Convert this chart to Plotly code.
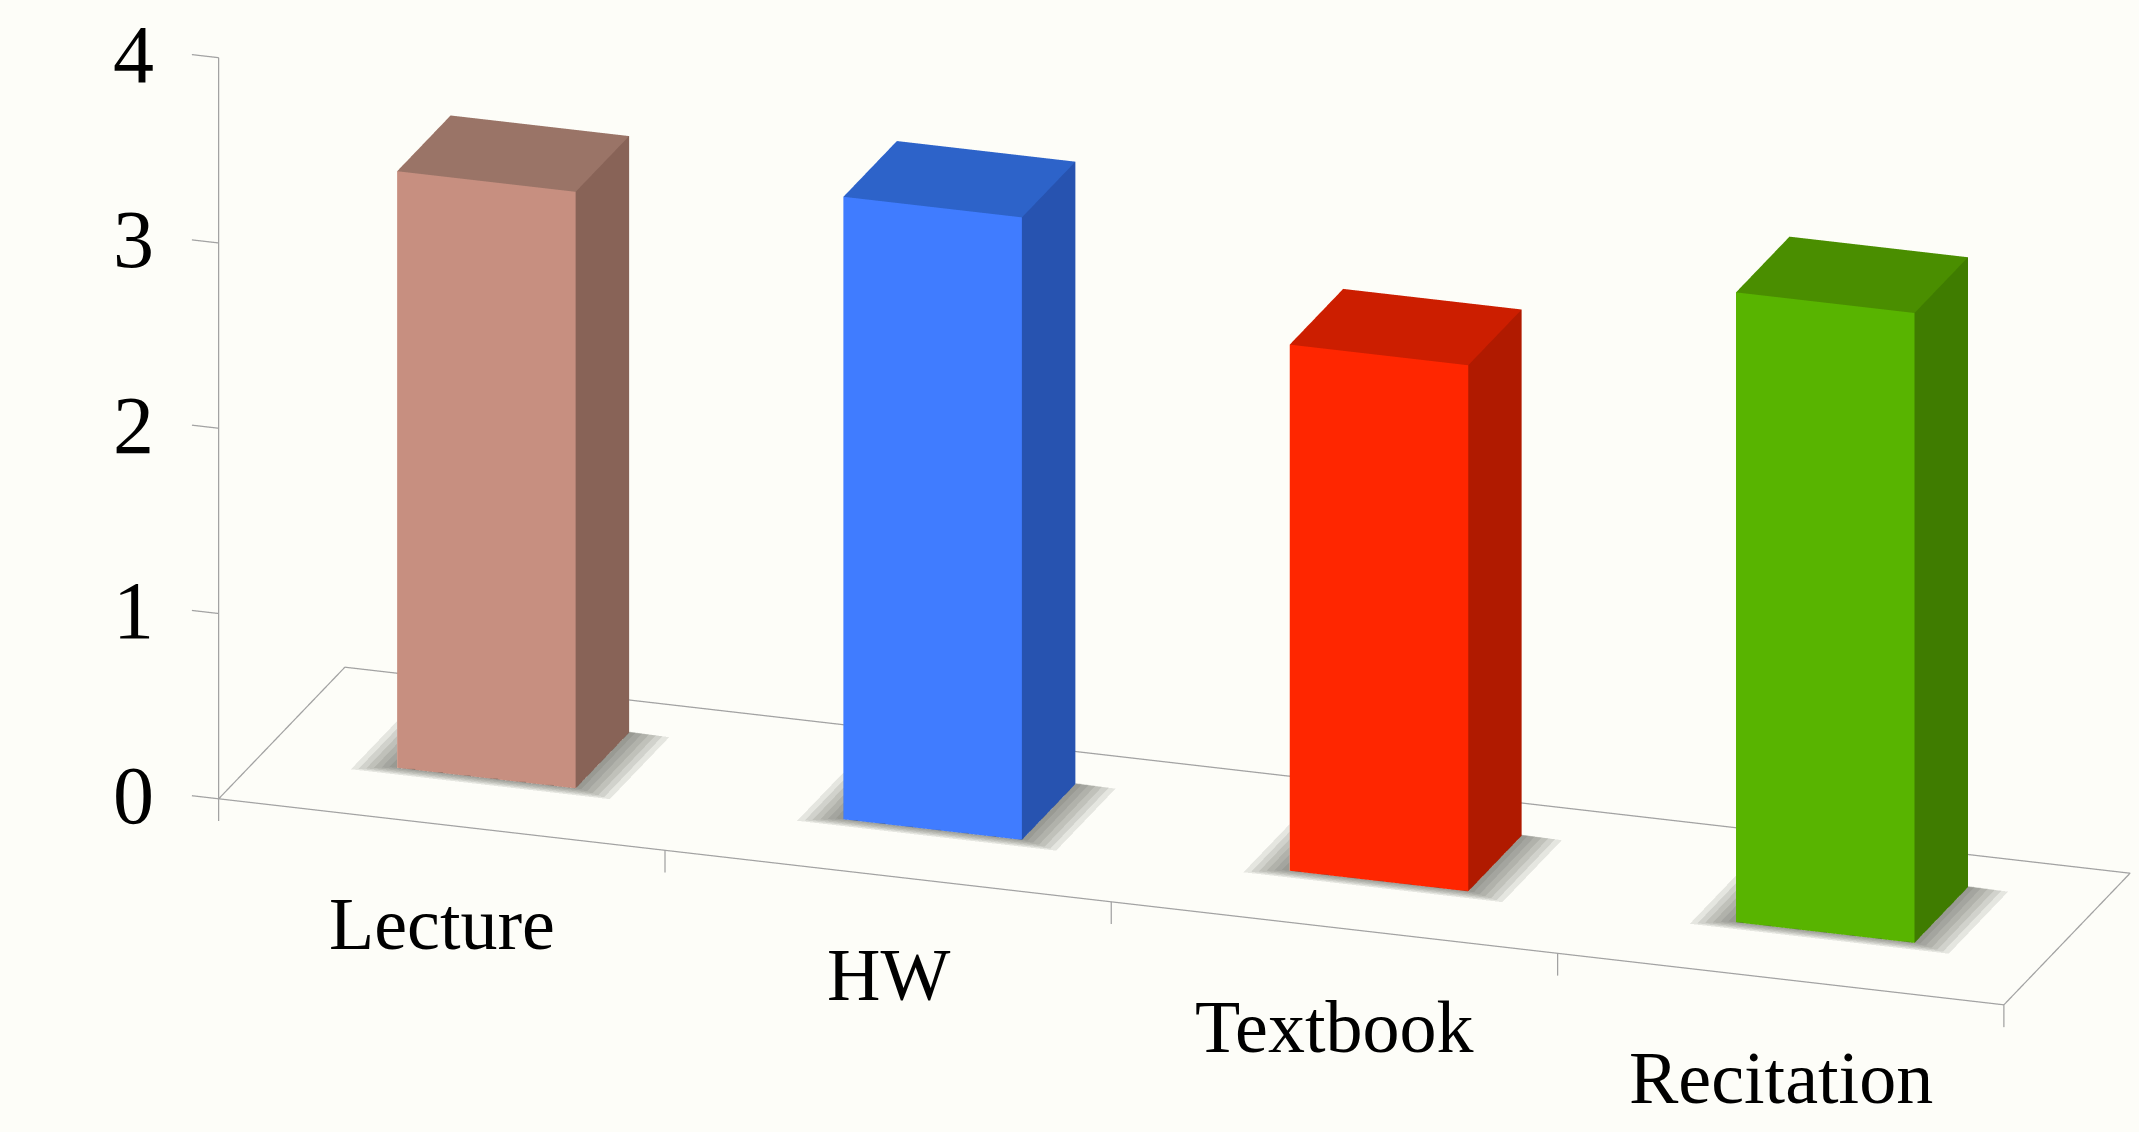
import math
import plotly.graph_objects as go

# ---- data ----
categories = ["Lecture", "HW", "Textbook", "Recitation"]
values = [3.22, 3.36, 2.84, 3.40]
y_ticks = [0, 1, 2, 3, 4]

front_colors = ["#C78F80", "#407CFF", "#FF2600", "#58B400"]
side_colors = ["#886357", "#2753B0", "#B01A00", "#3F7C00"]
top_colors = ["#9A7467", "#2D63C9", "#CC1E00", "#4A8E00"]

# ---- geometry / view settings ----
BAR_W = 0.40      # bar width as fraction of a category
DEPTH = 0.85      # floor depth (category units)
BAR_Y0 = 0.30     # front of bars (category units behind the front edge)
BAR_D = 0.36      # bar depth (category units)
K = 0.42          # world height of one value unit (category units)
XR = [-0.5, 4.1]
YR = [-0.05, DEPTH + 0.05]
ZR = [-1.0, 4.1]
S = 0.831         # normalized scene units per category (sets the zoom)
YAW = math.radians(-18.4)
PITCH = math.radians(20.3)
DIST = 6.0
LOOK = (1.765, 0.425, 1.392)   # data point shown at the centre of the view
GRID = "#A2A2A2"
BG = "#FDFDF8"
FONT = "Liberation Serif"
FLAT = dict(ambient=1.0, diffuse=0.0, specular=0.0, roughness=1.0, fresnel=0.0)

fig = go.Figure()

for i, (cat, v) in enumerate(zip(categories, values)):
    x0 = i + (1 - BAR_W) / 2
    x1 = x0 + BAR_W
    y0 = BAR_Y0
    y1 = y0 + BAR_D
    # soft floor shadow (stacked translucent layers)
    for n, e in enumerate([0.09, 0.075, 0.06, 0.045, 0.03, 0.015]):
        fig.add_trace(go.Mesh3d(
            x=[x0 - e, x1 + e, x1 + e, x0 - e],
            y=[y0 - 0.45 * e, y0 - 0.45 * e, y1, y1], z=[0.001 * (n + 1)] * 4,
            i=[0, 0], j=[1, 2], k=[2, 3], color="#55574F", opacity=0.14,
            lighting=FLAT, hoverinfo="skip", showscale=False))
    xs = [x0, x1, x1, x0, x0, x1, x1, x0]
    ys = [y0, y0, y1, y1, y0, y0, y1, y1]
    zs = [0, 0, 0, 0, v, v, v, v]
    I = [0, 0, 1, 1, 4, 4, 3, 3, 0, 0, 0, 0]
    J = [1, 5, 2, 6, 5, 6, 2, 6, 3, 7, 1, 2]
    Kf = [5, 4, 6, 5, 6, 7, 6, 7, 7, 4, 2, 3]
    fc = [front_colors[i]] * 2 + [side_colors[i]] * 2 + [top_colors[i]] * 2 + \
         [side_colors[i]] * 2 + [front_colors[i]] * 2 + [side_colors[i]] * 2
    fig.add_trace(go.Mesh3d(
        x=xs, y=ys, z=zs, i=I, j=J, k=Kf, facecolor=fc, flatshading=True,
        lighting=FLAT, hoverinfo="skip", name=cat, showscale=False))

line = dict(color=GRID, width=2.5)
# floor outline
fig.add_trace(go.Scatter3d(
    x=[0, 4, 4, 0, 0], y=[0, 0, DEPTH, DEPTH, 0], z=[0, 0, 0, 0, 0],
    mode="lines", line=line, hoverinfo="skip", showlegend=False))
# front-edge tick marks
for t in range(0, len(categories) + 1):
    fig.add_trace(go.Scatter3d(
        x=[t, t], y=[0, 0], z=[0, -0.12], mode="lines",
        line=line, hoverinfo="skip", showlegend=False))
# value axis
fig.add_trace(go.Scatter3d(
    x=[0, 0], y=[0, 0], z=[0, max(y_ticks)], mode="lines",
    line=line, hoverinfo="skip", showlegend=False))
for t in y_ticks:
    fig.add_trace(go.Scatter3d(
        x=[0, -0.06], y=[0, 0], z=[t, t], mode="lines",
        line=line, hoverinfo="skip", showlegend=False))

annotations = []
for t in y_ticks:
    annotations.append(dict(x=-0.06, y=0, z=t, text=str(t), showarrow=False,
                            xanchor="right", yanchor="middle", xshift=-36,
                            font=dict(family=FONT, size=82, color="black")))
for i, cat in enumerate(categories):
    annotations.append(dict(x=i + 0.5, y=0, z=0, text=cat, showarrow=False,
                            xanchor="center", yanchor="top", yshift=-56,
                            font=dict(family=FONT, size=74, color="black")))

# camera from yaw / pitch
dx = -math.sin(YAW) * math.cos(PITCH)
dy = -math.cos(YAW) * math.cos(PITCH)
dz = math.sin(PITCH)
cx = (LOOK[0] - (XR[0] + XR[1]) / 2) * S
cy = (LOOK[1] - (YR[0] + YR[1]) / 2) * S
cz = (LOOK[2] - (ZR[0] + ZR[1]) / 2) * K * S
center = dict(x=cx, y=cy, z=cz)
eye = dict(x=cx + DIST * dx, y=cy + DIST * dy, z=cz + DIST * dz)

hidden = dict(visible=False, showbackground=False, showgrid=False, zeroline=False,
              showspikes=False)
fig.update_layout(
    width=2139, height=1132,
    paper_bgcolor=BG, plot_bgcolor=BG,
    margin=dict(l=0, r=0, t=0, b=0),
    showlegend=False,
    scene=dict(
        domain=dict(x=[0, 1], y=[0, 1]),
        xaxis=dict(range=XR, **hidden),
        yaxis=dict(range=YR, **hidden),
        zaxis=dict(range=ZR, **hidden),
        aspectmode="manual",
        aspectratio=dict(x=(XR[1] - XR[0]) * S, y=(YR[1] - YR[0]) * S, z=(ZR[1] - ZR[0]) * K * S),
        camera=dict(eye=eye, center=center, up=dict(x=0, y=0, z=1),
                    projection=dict(type="orthographic")),
        bgcolor=BG,
        annotations=annotations,
    ),
)
fig.write_html("out.html")
